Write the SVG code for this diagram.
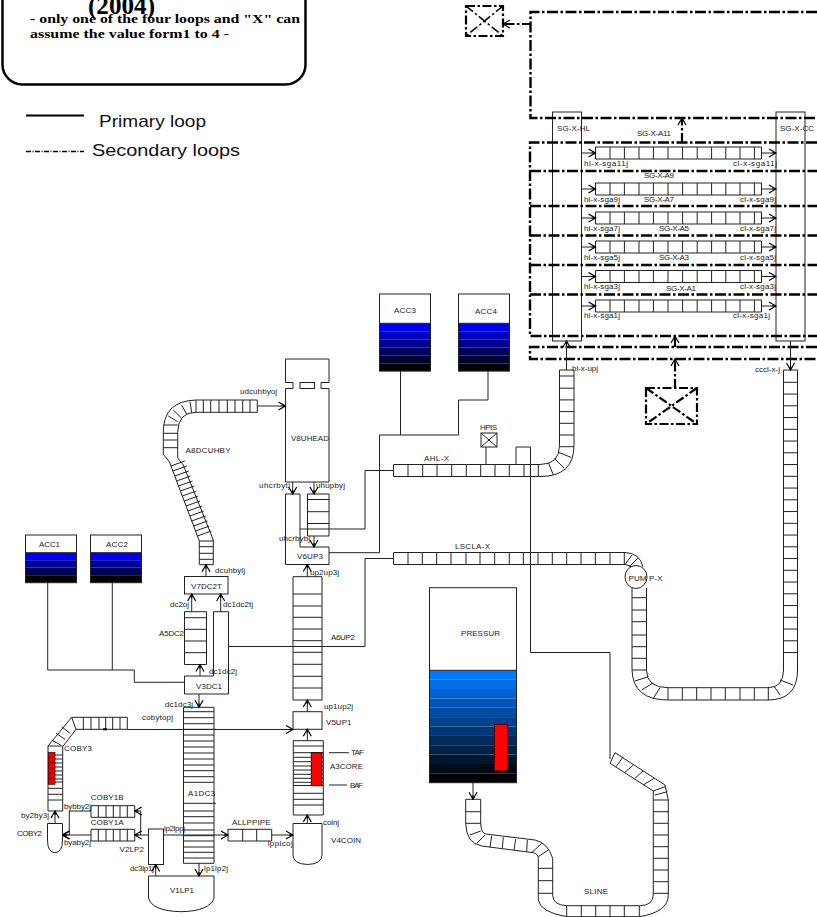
<svg xmlns="http://www.w3.org/2000/svg" width="817" height="917" viewBox="0 0 817 917">
<style>
text{font-family:"Liberation Sans",Arial,sans-serif;font-size:8px;fill:#222}
.ser{font-family:"Liberation Serif","Times New Roman",serif;font-weight:bold;fill:#000}
.big{font-size:17px;fill:#111}
.p{fill:none;stroke:#222;stroke-width:1}
.w{fill:#fff;stroke:#222;stroke-width:1}
.c{fill:none;stroke:#222;stroke-width:1}
.d{fill:none;stroke:#000;stroke-width:2.4;stroke-dasharray:11 2.5 2.5 2.5}
.dv{fill:none;stroke:#000;stroke-width:2.2;stroke-dasharray:9 2.5 2.5 2.5}
.ar{marker-end:url(#a)}
</style>
<defs>
<marker id="a" markerUnits="userSpaceOnUse" markerWidth="9" markerHeight="10" refX="8" refY="5" orient="auto">
<path d="M1 1 L8 5 L1 9 M4 5 L8 5" fill="none" stroke="#000" stroke-width="1.2"/>
</marker>
<g id="sgcells"><path class="p" d="M595.5 0h166v12h-166zM610 0v12M624.4 0v12M639 0v12M653.4 0v12M668 0v12M682.6 0v12M697.2 0v12M711.6 0v12M725.8 0v12M740 0v12M754.4 0v12"/></g>
</defs>
<g id="title">
<rect x="2.5" y="-40" width="303" height="124.5" rx="20" fill="none" stroke="#000" stroke-width="2.5"/>
<text class="ser" x="88" y="13.5" textLength="67" lengthAdjust="spacingAndGlyphs" style="font-size:25px">(2004)</text>
<text class="ser" x="30" y="23" textLength="270" lengthAdjust="spacingAndGlyphs" style="font-size:13px">- only one of the four loops and "X" can</text>
<text class="ser" x="30" y="38" textLength="199" lengthAdjust="spacingAndGlyphs" style="font-size:13px">assume the value form1 to 4 -</text>
</g>
<g id="legend">
<path d="M26 115.5H84" fill="none" stroke="#000" stroke-width="2"/>
<path d="M26 151.5H84" fill="none" stroke="#000" stroke-width="1.5" stroke-dasharray="5 1.5 1 1.5"/>
<text class="big" x="99" y="127" textLength="107" lengthAdjust="spacingAndGlyphs">Primary loop</text>
<text class="big" x="92" y="156" textLength="148" lengthAdjust="spacingAndGlyphs">Secondary  loops</text>
</g>
<g id="valve-top"><rect class="dv" x="466" y="6" width="37" height="30"/><path class="dv" d="M466 6L503 36M503 6L466 36" style="stroke-width:1.5"/></g>
<g id="valve-bottom"><rect class="dv" x="646" y="388" width="51" height="36"/><path class="dv" d="M646 388L697 424M697 388L646 424"/></g>
<g id="SG-X-HL"><rect class="p" x="552.5" y="112" width="29" height="229"/><text x="557" y="131" textLength="33">SG-X-HL</text></g>
<g id="SG-X-CC"><rect class="p" x="776" y="112" width="29" height="229"/><text x="780" y="131" textLength="34">SG-X-CC</text></g>
<g id="SG-X-A11"><use href="#sgcells" y="147"/><text x="637" y="136" textLength="34">SG-X-A11</text><text x="584" y="166" textLength="44">hl-x-sga11j</text><text x="733" y="166" textLength="44">cl-x-sga11j</text></g>
<g id="SG-X-A9"><use href="#sgcells" y="183"/><text x="644" y="178" textLength="30">SG-X-A9</text><text x="584" y="201.5" textLength="36">hl-x-sga9j</text><text x="740" y="201.5" textLength="36">cl-x-sga9j</text></g>
<g id="SG-X-A7"><use href="#sgcells" y="212"/><text x="644" y="201.5" textLength="30">SG-X-A7</text><text x="584" y="231" textLength="36">hl-x-sga7j</text><text x="740" y="231" textLength="36">cl-x-sga7j</text></g>
<g id="SG-X-A5"><use href="#sgcells" y="241"/><text x="659" y="231" textLength="30">SG-X-A5</text><text x="584" y="259.5" textLength="36">hl-x-sga5j</text><text x="740" y="259.5" textLength="36">cl-x-sga5j</text></g>
<g id="SG-X-A3"><use href="#sgcells" y="270.5"/><text x="659" y="260" textLength="30">SG-X-A3</text><text x="584" y="288.5" textLength="36">hl-x-sga3j</text><text x="740" y="288.5" textLength="36">cl-x-sga3j</text></g>
<g id="SG-X-A1"><use href="#sgcells" y="300"/><text x="666" y="291" textLength="30">SG-X-A1</text><text x="584" y="318" textLength="36">hl-x-sga1j</text><text x="733" y="318" textLength="37">cl-x-sga1j</text></g>
<g id="AHL-X">
<path class="p" d="M574 370H559.5V445.5Q559.5 464.5 540 464.5H393.5V476.5H540Q574 476.5 574 445.5V370"/>
<path class="p" d="M559.5 376h14.5m-14.5 12.2h14.5m-14.5 11.7h14.5m-14.5 11.7h14.5m-14.5 11.7h14.5m-14.5 11.7h14.5m-14.5 11.7h14.5M558.6 452.3L571 457.4M554.4 458.4L564 468M548.3 462.6L553.4 475M408 464.5v12M422.7 464.5v12M437 464.5v12M451.7 464.5v12M466.3 464.5v12M480.7 464.5v12M495 464.5v12M509.3 464.5v12M524 464.5v12M538.3 464.5v12"/>
<text x="424" y="461" textLength="25">AHL-X</text>
</g>
<g id="HPIS"><rect class="p" x="481" y="433" width="16" height="14"/><path class="p" d="M481 433L497 447M497 433L481 447"/><text x="480" y="430" textLength="17">HPIS</text></g>
<g id="LSCLA-X">
<path class="p" d="M393.5 552.5V564.5H625M393.5 552.5H625Q640 553 643 567M625 564.5Q630 565 632 568"/>
<path class="p" d="M408 552.5v12M422.3 552.5v12M436.7 552.5v12M451 552.5v12M466 552.5v12M480 552.5v12M494.7 552.5v12M509.3 552.5v12M523.3 552.5v12M538 552.5v12M552.3 552.5v12M566.7 552.5v12M581 552.5v12M595.3 552.5v12M610 552.5v12M624.3 552.5v12M625 564.5L632 555M629 567L638 558"/>
<text x="455" y="548.5" textLength="35">LSCLA-X</text>
</g>
<g id="cold-leg">
<path class="p" d="M632 588V670Q633 700 668 700H768Q797.5 700 797.5 670V370H783.5V670Q783.5 687.7 768 687.7H668Q646.5 687.7 646.5 670V588"/>
<path class="p" d="M632 597.7h14.5m-14.5 12.3h14.5m-14.5 11.7h14.5m-14.5 13.3h14.5m-14.5 11.7h14.5m-14.5 11.6h14.5m-14.5 11.7h14.5M635 681L648.3 676.7M641.7 690L653.3 682.7M653.3 698.3L660 687.7M668 687.7v12.3M682.3 687.7v12.3M696.7 687.7v12.3M711 687.7v12.3M725.3 687.7v12.3M740 687.7v12.3M754.3 687.7v12.3M768.3 687.7v12.3M774 686L780 695M780 680L793 685"/>
<path class="p" d="M783.5 382.3h14m-14 11.75h14m-14 11.75h14m-14 11.75h14m-14 11.75h14m-14 11.75h14m-14 11.75h14m-14 11.75h14m-14 11.75h14m-14 11.75h14m-14 11.75h14m-14 11.75h14m-14 11.75h14m-14 11.75h14m-14 11.75h14m-14 11.75h14m-14 11.75h14m-14 11.75h14m-14 11.75h14m-14 11.75h14m-14 11.75h14m-14 11.75h14m-14 11.75h14m-14 11.75h14"/>
</g>
<g id="PUMP-X"><ellipse class="w" cx="636" cy="577" rx="11" ry="11.5"/><text x="628.5" y="580.5" textLength="34">PUM P-X</text></g>
<g id="ACC3">
<rect x="379.5" y="323.3" width="51" height="8" fill="#0000f0"/><rect x="379.5" y="331.3" width="51" height="8" fill="#0000c0"/><rect x="379.5" y="339.3" width="51" height="8" fill="#000090"/><rect x="379.5" y="347.3" width="51" height="8" fill="#000060"/><rect x="379.5" y="355.3" width="51" height="8" fill="#000030"/><rect x="379.5" y="363.3" width="51" height="8" fill="#000"/>
<rect class="p" x="379.5" y="294" width="51" height="77"/><path class="p" d="M379.5 323.3h51"/><text x="394" y="313" textLength="22">ACC3</text>
</g>
<g id="ACC4">
<rect x="458.5" y="323.3" width="51" height="8" fill="#0000f0"/><rect x="458.5" y="331.3" width="51" height="8" fill="#0000c0"/><rect x="458.5" y="339.3" width="51" height="8" fill="#000090"/><rect x="458.5" y="347.3" width="51" height="8" fill="#000060"/><rect x="458.5" y="355.3" width="51" height="8" fill="#000030"/><rect x="458.5" y="363.3" width="51" height="8" fill="#000"/>
<rect class="p" x="458.5" y="294" width="51" height="77"/><path class="p" d="M458.5 323.3h51"/><text x="475" y="314" textLength="22">ACC4</text>
</g>
<g id="ACC1">
<rect x="25.5" y="552.7" width="51" height="7.5" fill="#0000f0"/><rect x="25.5" y="560.2" width="51" height="7.5" fill="#0000a0"/><rect x="25.5" y="567.7" width="51" height="7.5" fill="#000050"/><rect x="25.5" y="575.2" width="51" height="7.5" fill="#000"/>
<rect class="p" x="25.5" y="535" width="51" height="47.7"/><path class="p" d="M25.5 552.7h51"/><text x="39" y="547" textLength="21">ACC1</text>
</g>
<g id="ACC2">
<rect x="90.5" y="552.7" width="51" height="7.5" fill="#0000f0"/><rect x="90.5" y="560.2" width="51" height="7.5" fill="#0000a0"/><rect x="90.5" y="567.7" width="51" height="7.5" fill="#000050"/><rect x="90.5" y="575.2" width="51" height="7.5" fill="#000"/>
<rect class="p" x="90.5" y="535" width="51" height="47.7"/><path class="p" d="M90.5 552.7h51"/><text x="106" y="547" textLength="22">ACC2</text>
</g>
<g id="V8UHEAD">
<path class="p" d="M285.5 359H329V382.5H321V388.5H329V482H285.5V388.5H293V382.5H285.5Z"/><rect class="p" x="300" y="382.5" width="14.5" height="6"/>
<text x="291" y="441" textLength="38">V8UHEAD</text>
<text x="259" y="487.5" textLength="31">uhcrbytj</text><text x="316" y="488" textLength="29">uhupbyj</text>
</g>
<g id="V6UP3">
<path class="p" d="M285.5 494H300V547H329V564.5H285.5Z"/><text x="297" y="559" textLength="26">V6UP3</text>
<text x="279" y="540.5" textLength="31">uhcrbybj</text><text x="310" y="575" textLength="29">up2up3j</text>
</g>
<g id="uhupby"><path class="p" d="M307.5 494H329V536H307.5ZM307.5 499.5H329M307.5 511.7H329M307.5 523.5H329"/></g>
<g id="A6UP2"><path class="p" d="M293 576.7H322V700H293ZM293 594H322M293 606H322M293 617.3H322M293 629H322M293 640.7H322M293 652.3H322M293 664.3H322M293 676.3H322M293 688H322"/><text x="331" y="640" textLength="24">A6UP2</text></g>
<g id="V5UP1"><rect class="p" x="293" y="711.7" width="29" height="17.6"/><text x="326" y="724.5" textLength="25.5">V5UP1</text><text x="324" y="709" textLength="29">up1up2j</text></g>
<g id="A3CORE">
<path class="p" d="M293.3 740.7H323.3V815H293.3ZM293.3 746H323.3M293.3 752.7H323.3M293.3 757.3H323.3M293.3 761.7H323.3M293.3 766H323.3M293.3 770H323.3M293.3 774.3H323.3M293.3 778.3H323.3M293.3 782.3H323.3M293.3 785.5H323.3M293.3 793.3H323.3M293.3 799.3H323.3M293.3 805H323.3"/>
<rect x="311.3" y="752.7" width="10.7" height="33" fill="#f00" stroke="#200" stroke-width="1"/>
<path class="p" d="M329 752.7H349M329 785H347"/>
<text x="351" y="755" textLength="13">TAF</text><text x="350" y="787.5" textLength="13">BAF</text><text x="330" y="769" textLength="33">A3CORE</text>
</g>
<g id="V4COIN"><path class="p" d="M293 823.5H322V855Q322 864 307.5 864.5Q293 864 293 855Z"/><text x="323" y="825" textLength="16">coinj</text><text x="331" y="843" textLength="30">V4COIN</text></g>
<g id="A1DC3">
<path class="p" d="M183.5 707.3H214V863.3H183.5ZM183.5 711.7H214M183.5 717.7H214M183.5 723.7H214M183.5 729.3H216M183.5 735H214M183.5 741H214M183.5 747H214M183.5 753H214M183.5 759H214M183.5 765H214M183.5 770.7H214M183.5 776.7H214M183.5 782.3H214M183.5 803.3H216M183.5 811H214M183.5 816.7H214M183.5 823H214M183.5 830H214M183.5 835.7H214M183.5 841H214M183.5 847H214M183.5 852.3H214M183.5 858H214"/>
<text x="188" y="796" textLength="27">A1DC3</text>
</g>
<g id="V3DC1"><path class="p" d="M184.5 676H213.5V611.7H228.5V694H184.5Z"/><text x="196" y="689" textLength="26">V3DC1</text><text x="209" y="674" textLength="28">dc1dc2j</text><text x="165" y="706.5" textLength="28">dc1dc3j</text></g>
<g id="A5DC2"><path class="p" d="M184.5 611.7H206.5V664.5H184.5ZM184.5 617.7H206.5M184.5 629.3H206.5M184.5 641H206.5M184.5 652.7H206.5"/><text x="159" y="636" textLength="25">A5DC2</text></g>
<g id="V7DC2T"><rect class="p" x="184.5" y="576.5" width="43.5" height="17.5"/><text x="191" y="588.5" textLength="31">V7DC2T</text><text x="170" y="606.5" textLength="19">dc2oj</text><text x="223" y="607" textLength="30">dc1dc2tj</text></g>
<g id="A8DCUHBY">
<path class="p" d="M257.3 400H196Q163.3 401 163.3 432V454.3L169.3 461.7L199.3 541V564.7H213.3V540L183.3 465L177.7 458V432Q178 412.3 196 412.3H257.3Z"/>
<path class="p" d="M203.3 400v12.3M210.7 400v12.3M219 400v12.3M227.3 400v12.3M235 400v12.3M242.7 400v12.3M250 400v12.3M196 400v12.3M190 401.7L191.7 412.7M181.7 405L186.7 414.3M173.3 410L181.7 418.3M168.3 416L177.7 421.7M163.3 425H177.7M163.3 433.3H177.7M163.3 440H177.7M163.3 447.7H177.7"/>
<path class="p" d="M170.9 466l14 -5M172.8 471l14 -5M174.7 476l14 -5M176.6 481l14 -5M178.5 486l14 -5M180.4 491l14 -5M182.3 496l14 -5M184.2 501l14 -5M186 506l14 -5M187.9 511l14 -5M189.8 516l14 -5M191.7 521l14 -5M193.6 526l14 -5M195.5 531l14 -5M197.4 536l14 -5M199.3 541H213.3M199.3 546.7H213.3M199.3 553.3H213.3M199.3 559.3H213.3"/>
<text x="185.5" y="452.5" textLength="45">A8DCUHBY</text><text x="240" y="394" textLength="37">udcuhbyoj</text><text x="215" y="573" textLength="30">dcuhbylj</text>
</g>
<g id="COBY3">
<path class="p" d="M127.3 717.3H71.7L48 746V811H62.7V746.7L76 729.3H127.3Z"/>
<path class="p" d="M83.3 717.3v12M91 717.3v12M99 717.3v12M105.7 717.3v12M112.7 717.3v12M120 717.3v12M71.7 717.3L76 729.3M61.7 726.7L70 733.3M56 733.3L65 739.3M51.7 740L60.7 745M48 746H62.7M48 755H62.7M48 759H62.7M48 763H62.7M48 767H62.7M48 771H62.7M48 775H62.7M48 779H62.7M48 782H62.7M48 788.3H62.7M48 794.3H62.7M48 800H62.7"/>
<path d="M103 729.3h4" stroke="#000" stroke-width="2" fill="none"/>
<rect x="48.3" y="752.3" width="6.7" height="32" fill="#e00" stroke="#300" stroke-width="0.7"/>
<path d="M48.3 757.3h6.7M48.3 762.7h6.7M48.3 768h6.7M48.3 773.3h6.7M48.3 778.7h6.7" stroke="#600" stroke-width="0.7" fill="none"/>
<text x="64" y="750.5" textLength="28">COBY3</text><text x="142" y="720" textLength="31">cobytopj</text>
</g>
<g id="COBY2"><path class="p" d="M47.5 823.5H62.5V840Q62.5 852.5 55 852.7Q47.5 852.5 47.5 840Z"/><text x="17" y="836" textLength="25">COBY2</text><text x="21" y="817.5" textLength="28">by2by3j</text></g>
<g id="COBY1B"><path class="p" d="M91 805.7H134.7V817.3H91ZM98.3 805.7v11.6M106 805.7v11.6M113.3 805.7v11.6M120 805.7v11.6M127.3 805.7v11.6"/><text x="90.7" y="800" textLength="33">COBY1B</text><text x="64" y="808.5" textLength="27">bybby2j</text></g>
<g id="COBY1A"><path class="p" d="M91 829.3H134.7V841H91ZM98.3 829.3v11.7M106 829.3v11.7M113.3 829.3v11.7M120 829.3v11.7M127.3 829.3v11.7"/><text x="90.7" y="824.5" textLength="33">COBY1A</text><text x="64" y="844.5" textLength="27">byaby2j</text></g>
<g id="V2LP2"><rect class="p" x="148.5" y="829" width="15" height="35.5"/><text x="119.5" y="851.5" textLength="24.5">V2LP2</text><text x="164" y="830.5" textLength="21">lp2lppj</text><text x="130" y="870.5" textLength="24">dc3lp1j</text></g>
<g id="V1LP1"><path class="p" d="M148.5 876H214V898Q210 911 181 911.7Q152 911 148.5 898Z"/><text x="170" y="892.5" textLength="24">V1LP1</text><text x="204" y="871" textLength="24">lp1lp2j</text></g>
<g id="ALLPPIPE"><path class="p" d="M228 829.3H271.7V841H228ZM242.7 829.3v11.7M256.7 829.3v11.7"/><text x="232" y="825" textLength="38.5">ALLPPIPE</text><text x="267.7" y="845.5" textLength="25">lpplcoj</text></g>
<g id="PRESSUR">
<rect x="429.5" y="670.3" width="87" height="9.4" fill="#0078ff"/><rect x="429.5" y="679.7" width="87" height="9.4" fill="#006de8"/><rect x="429.5" y="689" width="87" height="9.4" fill="#0062d1"/><rect x="429.5" y="698.4" width="87" height="9.4" fill="#0057b9"/><rect x="429.5" y="707.8" width="87" height="9.4" fill="#004ca2"/><rect x="429.5" y="717.1" width="87" height="9.4" fill="#00418b"/><rect x="429.5" y="726.5" width="87" height="9.4" fill="#003774"/><rect x="429.5" y="735.8" width="87" height="9.4" fill="#002c5d"/><rect x="429.5" y="745.2" width="87" height="9.4" fill="#002146"/><rect x="429.5" y="754.6" width="87" height="9.4" fill="#00162e"/><rect x="429.5" y="763.9" width="87" height="9.4" fill="#000b17"/><rect x="429.5" y="773.3" width="87" height="9.4" fill="#000"/>
<rect class="p" x="429.5" y="587.7" width="87" height="195"/><path class="p" d="M429.5 670.3h87"/>
<rect x="494.5" y="724.5" width="13" height="46.2" fill="#f00" stroke="#600" stroke-width="1"/>
<text x="461" y="636" textLength="39">PRESSUR</text>
</g>
<g id="SLINE">
<path class="p" d="M465.7 799.3V823.3Q466 843 481.7 846L533.3 852.7Q538.3 854 538.3 858.3V900Q540 912 566.7 916.7H639.3Q668.3 912 668.3 895V800L665 785L615 752.7L610 763.3L653.3 791V895Q653 905.7 639.3 905.7H566.7Q552.7 905 552.7 895V858.3Q548 843 535 840L485.7 834Q481 833 480.7 823.3V799.3Z"/>
<path class="p" d="M465.7 811.7h15M465.7 823.3h15M480.7 831L470 835M485 835L476.7 843.3M491.7 835.7L490 847.3M503.3 837.3L502.3 848.3M515.7 839L514 850M527.3 840L526.7 851.7M541.7 843.3L531.7 852.7M548.3 850L538.3 856.7M538.3 868.3h14.4M538.3 880.7h14.4M538.3 893.3h14.4M566.7 905.7v11M581.3 905.7v11M595.7 905.7v11M610 905.7v11M624.3 905.7v11M639.3 905.7v11M653.3 800h15M653.3 811.7h15M653.3 823.3h15M653.3 835h15M653.3 846.7h15M653.3 858.3h15M653.3 870h15M653.3 881.7h15M653.3 893.3h15M623.3 756.7L616 766.7M633.3 765L625 772.3M643.3 770.7L635 778.3M654 778.3L643.3 785M665 786.7L653.3 791M667.3 791.7L655 795"/>
<text x="584" y="894" textLength="24">SLINE</text>
</g>
<g id="connectors">
<path class="d" d="M817 12H530.5V118H817"/>
<path class="d" d="M817 142.5H530V336H817"/>
<path class="d" d="M530 171H817M530 206H817M530 235.5H817M530 265H817M530 294.5H817"/>
<path class="d" d="M817 347H530V359H817"/>
<path class="dv ar" d="M531 24H503"/>
<path class="dv ar" d="M682 142V118"/>
<path class="dv ar" d="M675 347V336"/>
<path class="dv ar" d="M675 388V359"/>
<path class="c ar" d="M582 153H595.5"/><path class="c ar" d="M761.5 153H776"/>
<path class="c ar" d="M582 189H595.5"/><path class="c ar" d="M761.5 189H776"/>
<path class="c ar" d="M582 218H595.5"/><path class="c ar" d="M761.5 218H776"/>
<path class="c ar" d="M582 247H595.5"/><path class="c ar" d="M761.5 247H776"/>
<path class="c ar" d="M582 276.5H595.5"/><path class="c ar" d="M761.5 276.5H776"/>
<path class="c ar" d="M582 306H595.5"/><path class="c ar" d="M761.5 306H776"/>
<path class="c ar" d="M566.5 370V341"/>
<path class="c ar" d="M790.5 341V370"/>
<text x="572" y="371" textLength="26">hl-x-upj</text><text x="755" y="372" textLength="25">cccl-x-j</text>
<path class="c" d="M400.5 371V435"/>
<path class="c" d="M488 371V400H458.5V435H379.5V552.7H329"/>
<path class="c" d="M393.5 470.5H365V529H300"/>
<path class="c" d="M393.5 558.5H365V646.5H228.5"/>
<path class="c" d="M486 447V464.5"/>
<path class="c" d="M516 464.5V447H530.5V652.5H610V759"/>
<path class="c ar" d="M257.3 406H285.5"/>
<path class="c ar" d="M292.7 482V494"/><path class="c ar" d="M314 482V494"/>
<path class="c ar" d="M314 536V547"/>
<path class="c ar" d="M307.3 576.7V564.5"/>
<path class="c ar" d="M307.3 711.7V700"/>
<path class="c ar" d="M307.3 740.7V729.3"/>
<path class="c ar" d="M307.3 823.5V815"/>
<path class="c ar" d="M206 576.5V564.7"/>
<path class="c ar" d="M191.7 611.7V594"/>
<path class="c ar" d="M220.7 611.7V594"/>
<path class="c ar" d="M200 676V664.5"/>
<path class="c ar" d="M199 694V707.3"/>
<path class="c ar" d="M127.3 729.5H293"/>
<path class="c" d="M47.7 582.7V670H134.3V682.3H184.5M112.3 582.7V670"/>
<path class="c ar" d="M55 823.5V811"/>
<path class="c ar" d="M91 835H62.5"/>
<path class="c ar" d="M91 811H69.3V835H62.5"/>
<path class="c ar" d="M148.5 835H134.7"/>
<path class="c ar" d="M140.7 835V811H134.7"/>
<path class="c ar" d="M163.5 835H228"/>
<path class="c ar" d="M271.7 835H293"/>
<path class="c ar" d="M155.7 876V864.5"/>
<path class="c ar" d="M199 863.3V876"/>
<path class="c ar" d="M473 782.7V799.3"/>
</g>
</svg>
